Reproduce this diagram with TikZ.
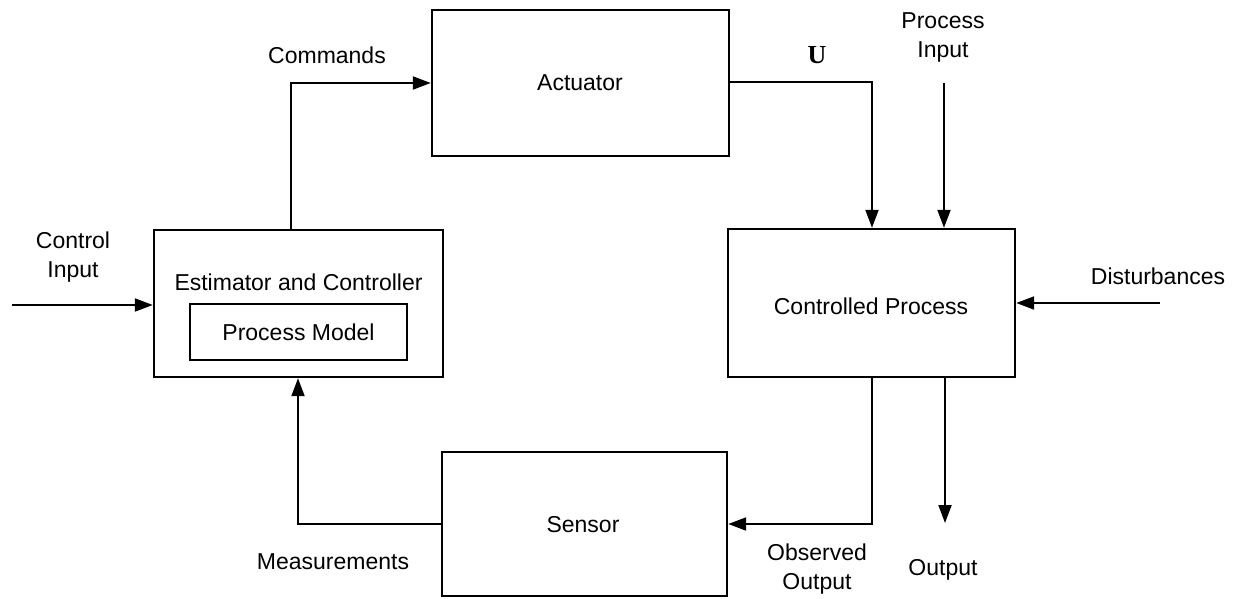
\documentclass[tikz,border=0pt]{standalone}
\usepackage{fontspec}
\setmainfont{Liberation Sans}
\newfontfamily\serifbold{Liberation Serif}
\usetikzlibrary{arrows.meta}
\begin{document}
\begin{tikzpicture}[x=1pt,y=-1pt,
  block/.style={draw, line width=2.4pt, rectangle, inner sep=0pt},
  txt/.style={font=\fontsize{23}{29}\selectfont, align=center, inner sep=0pt},
  link/.style={line width=2pt, -{Triangle[length=18pt,width=13pt]}},
  wire/.style={line width=2pt}]
  \useasboundingbox (0,0) rectangle (1236,598);

  % blocks
  \node[block, minimum width=297pt, minimum height=146pt] (act) at (580.5,83) {};
  \node[block, minimum width=289pt, minimum height=147pt] (est) at (298.5,303.5) {};
  \node[block, minimum width=217pt, minimum height=56pt] (pm) at (298.5,332) {};
  \node[block, minimum width=287pt, minimum height=148pt] (cp) at (871.5,303) {};
  \node[block, minimum width=285pt, minimum height=144pt] (sen) at (584.5,524) {};

  % block texts
  \node[txt] (actT) at (580,83) {Actuator};
  \node[txt] (estT) at (298.5,282) {Estimator and Controller};
  \node[txt] (pmT) at (298.5,332) {Process Model};
  \node[txt] (cpT) at (871,306) {Controlled Process};
  \node[txt] (senT) at (583,525) {Sensor};

  % free ends and bends
  \coordinate (cmd) at (291,0);
  \coordinate (ux) at (872,0);
  \coordinate (pin) at (944,83);
  \coordinate (cin) at (12,305);
  \coordinate (dist) at (1160,303);
  \coordinate (outx) at (945,0);
  \coordinate (outEnd) at (945,523);
  \coordinate (mx) at (298,0);

  % connectors
  \draw[link] (cmd |- est.north) |- (act.west);
  \draw[link] (act.east |- 0,82) -| (ux |- cp.north);
  \draw[link] (pin) -- (pin |- cp.north);
  \draw[link] (cin) -- (cin -| est.west);
  \draw[link] (dist) -- (dist -| cp.east);
  \draw[link] (ux |- cp.south) |- (sen.east);
  \draw[link] (outx |- cp.south) -- (outEnd);
  \draw[link] (sen.west) -| (mx |- est.south);

  % connector labels
  \node[txt] (lCmd) at (327,55) {Commands};
  \node[inner sep=0pt, font=\serifbold\bfseries\fontsize{26}{30}\selectfont] (lU) at (817,55) {U};
  \node[txt] (lPin) at (943,37) {Process\\Input};
  \node[txt] (lCin) at (73,257) {Control\\Input};
  \node[txt] (lDist) at (1158,276) {Disturbances};
  \node[txt] (lMeas) at (333,562) {Measurements};
  \node[txt] (lObs) at (817,569) {Observed\\Output};
  \node[txt] (lOut) at (943,570) {Output};
\end{tikzpicture}
\end{document}
